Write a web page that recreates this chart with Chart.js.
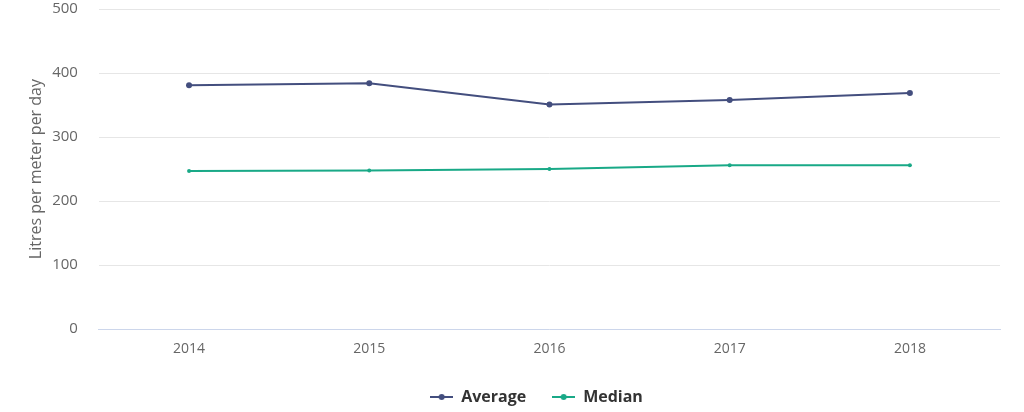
<!DOCTYPE html>
<html>
<head>
<meta charset="utf-8">
<script src="https://cdn.jsdelivr.net/npm/chart.js@4/dist/chart.umd.min.js"></script>
<style>
  html, body { margin: 0; padding: 0; background: #fff; }
  #wrap { width: 1024px; height: 412px; }
</style>
</head>
<body>
<div id="wrap"><canvas id="chart" width="1024" height="412"></canvas></div>
<script>
const years = ["2014", "2015", "2016", "2017", "2018"];
const average = [381, 384, 351, 358, 369];
const median = [247, 248, 250, 256, 256];
const yTicks = [0, 100, 200, 300, 400, 500];

// legend symbol: short line with a dot in the middle
function legendSymbol(color) {
  const c = document.createElement("canvas");
  c.width = 23; c.height = 8;
  const ctx = c.getContext("2d");
  ctx.strokeStyle = color;
  ctx.lineWidth = 2;
  ctx.beginPath(); ctx.moveTo(0, 4); ctx.lineTo(23, 4); ctx.stroke();
  ctx.fillStyle = color;
  ctx.beginPath(); ctx.arc(11.5, 4, 3, 0, Math.PI * 2); ctx.fill();
  return c;
}

// legend in the original sits a bit right of centre and lower
const legendShift = {
  id: "legendShift",
  afterLayout(chart) {
    const lg = chart.legend;
    lg.left += 26;
    lg.right += 26;
    lg.top += 3;
    lg.bottom += 3;
  },
};

const avgColor = "#434e7e";
const medColor = "#19a987";

const data = {
  labels: years,
  datasets: [
    {
      label: "Average",
      data: average,
      borderColor: avgColor,
      backgroundColor: avgColor,
      borderWidth: 2,
      pointRadius: 3,
      pointBorderWidth: 0,
      tension: 0,
    },
    {
      label: "Median",
      data: median,
      borderColor: medColor,
      backgroundColor: medColor,
      borderWidth: 2,
      pointRadius: 2,
      pointBorderWidth: 0,
      tension: 0,
    },
  ],
};

const config = {
  type: "line",
  data: data,
  plugins: [legendShift],
  options: {
    responsive: false,
    animation: false,
    layout: { padding: { top: 0, right: 24, left: 21, bottom: 0 } },
    plugins: {
      legend: {
        position: "bottom",
        labels: {
          font: { family: "'Open Sans'", size: 16, weight: "bold" },
          color: "#333333",
          usePointStyle: true,
          pointStyleWidth: 23,
          generateLabels: (chart) =>
            chart.data.datasets.map((ds, i) => ({
              text: ds.label,
              pointStyle: legendSymbol(ds.borderColor),
              fillStyle: ds.borderColor,
              strokeStyle: ds.borderColor,
              fontColor: "#333333",
              datasetIndex: i,
              hidden: false,
            })),
          padding: 26,
        },
      },
      tooltip: { enabled: false },
    },
    scales: {
      x: {
        offset: true,
        grid: { display: false },
        border: { color: "#ccd6eb" },
        ticks: {
          color: "#666666",
          font: { family: "'Open Sans'", size: 14 },
          padding: 3,
        },
      },
      y: {
        min: 0,
        max: 500,
        afterBuildTicks: (axis) => {
          axis.ticks = yTicks.map((v) => ({ value: v }));
        },
        grid: { color: "#e6e6e6", tickLength: 21, tickColor: "rgba(0,0,0,0)" },
        border: { display: false },
        ticks: {
          color: "#666666",
          font: { family: "'Open Sans'", size: 15 },
          padding: 0,
        },
        title: {
          display: true,
          text: "Litres per meter per day",
          color: "#666666",
          font: { family: "'Open Sans'", size: 16 },
          padding: 6,
        },
      },
    },
  },
};

const chart = new Chart("chart", config);
</script>
</body>
</html>
